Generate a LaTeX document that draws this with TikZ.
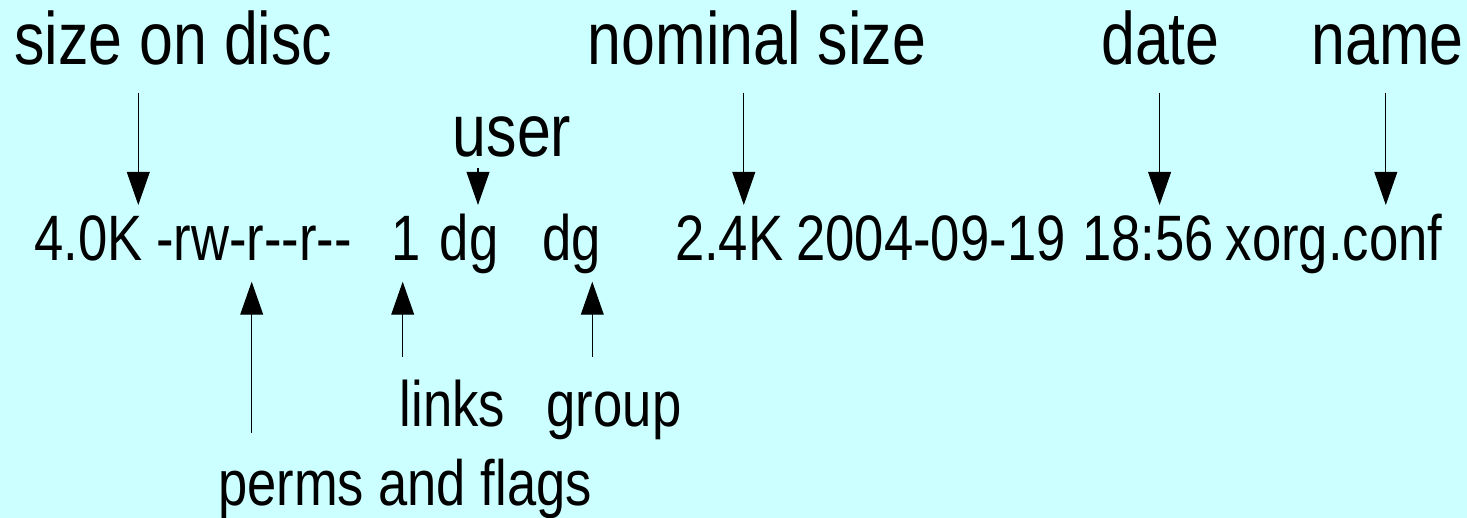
\documentclass[tikz,border=0pt]{standalone}
\usepackage{fontspec}
\setmainfont{Liberation Sans}[FakeStretch=0.82, Ligatures=TeXOff]
\usetikzlibrary{arrows.meta}
\definecolor{paper}{HTML}{CCFFFF}
\tikzset{
  biglabel/.style={inner sep=0pt, anchor=base, font=\fontsize{37.1}{40}\selectfont},
  field/.style={inner sep=0pt, anchor=base, font=\fontsize{32.1}{35}\selectfont},
  smalllabel/.style={inner sep=0pt, anchor=base, font=\fontsize{32}{35}\selectfont},
  pointer/.style={line width=0.6pt, -{Triangle[width=11.4pt,length=16.5pt]}},
}
\begin{document}
\begin{tikzpicture}[x=0.5pt, y=-0.5pt]
  \fill[paper] (0,0) rectangle (1467,518);
  \useasboundingbox (0,0) rectangle (1467,518);

  % labels above the listing
  \node[biglabel] (sod)  at (173.5,65) {size on disc};
  \node[biglabel] (nom)  at (757,65)   {nominal size};
  \node[biglabel] (date) at (1160.5,65) {date};
  \node[biglabel] (name) at (1387.5,65) {name};
  \node[biglabel] (user) at (512,156.7) {user};

  % the listing line, one node per field
  \node[field] (fsize)  at (88.3,261)  {4.0K};
  \node[field] (fperm)  at (254,261)   {-rw-r--r--};
  \node[field] (flinks) at (406,261)   {1};
  \node[field] (fuser)  at (469.2,261) {dg};
  \node[field] (fgroup) at (571.5,261) {dg};
  \node[field] (fnom)   at (729.2,261) {2.4K};
  \node[field] (fday)   at (931,261)   {2004-09-19};
  \node[field] (ftime)  at (1148,261)  {18:56};
  \node[field] (fname)  at (1334,261)  {xorg.conf};

  % labels below the listing
  \node[field] (links) at (452.3,426.7) {links};
  \node[field] (group) at (614,426.7)   {group};
  \node[smalllabel] (perms) at (405,505) {perms and flags};

  % arrow ends
  \coordinate (sodA)   at (138.3,92.7);  \coordinate (sodB)   at (138.3,205);
  \coordinate (nomA)   at (743.8,92.7);  \coordinate (nomB)   at (743.8,205);
  \coordinate (dateA)  at (1159.6,92.7); \coordinate (dateB)  at (1159.6,205);
  \coordinate (nameA)  at (1385.8,92.7); \coordinate (nameB)  at (1385.8,205);
  \coordinate (userA)  at (478,168);     \coordinate (userB)  at (478,205);
  \coordinate (permsA) at (251.7,432.7); \coordinate (permsB) at (251.7,281.7);
  \coordinate (linksA) at (402.7,356.7); \coordinate (linksB) at (402.7,281.7);
  \coordinate (groupA) at (592.3,356.7); \coordinate (groupB) at (592.3,281.7);

  \draw[pointer] (sodA) -- (sodB);
  \draw[pointer] (nomA) -- (nomB);
  \draw[pointer] (dateA) -- (dateB);
  \draw[pointer] (nameA) -- (nameB);
  \draw[pointer] (userA) -- (userB);
  \draw[pointer] (permsA) -- (permsB);
  \draw[pointer] (linksA) -- (linksB);
  \draw[pointer] (groupA) -- (groupB);
\end{tikzpicture}
\end{document}
